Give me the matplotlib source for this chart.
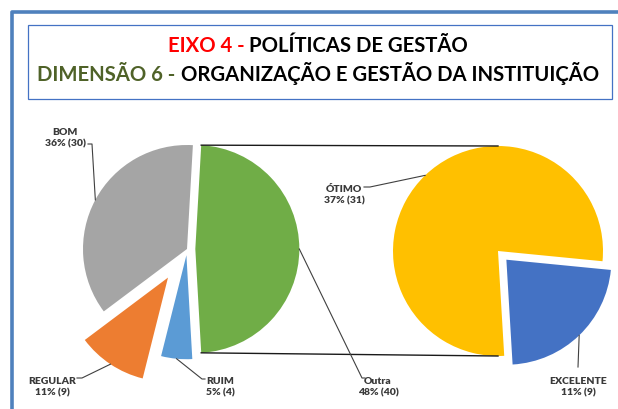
import numpy as np
import matplotlib
matplotlib.use('Agg')
import matplotlib.pyplot as plt
from matplotlib.patches import Rectangle

plt.rcParams['font.family'] = ['Lato', 'DejaVu Sans']

# data
main_labels = ['Outra', 'BOM', 'REGULAR', 'RUIM']
main_values = [40, 30, 9, 4]
main_colors = ['#70AD47', '#A5A5A5', '#ED7D31', '#5B9BD5']
main_explode = [0.08, 0.0, 0.33, 0.06]

sub_labels = ['ÓTIMO', 'EXCELENTE']
sub_values = [31, 9]
sub_colors = ['#FFC000', '#4472C4']
sub_explode = [0.0, 0.115]

total = sum(main_values)

title1 = [('EIXO 4 - ', '#FF0000'), ('POLÍTICAS DE GESTÃO', '#000000')]
title2 = [('DIMENSÃO 6 - ', '#4F6228'), ('ORGANIZAÇÃO E GESTÃO DA INSTITUIÇÃO', '#000000')]

W, H = 618, 410
fig = plt.figure(figsize=(W / 100, H / 100), dpi=100)
ax = fig.add_axes([0, 0, 1, 1])


def py(y):
    # pixel row (from top) -> data y
    return H - y


# pies (explode in pie() is absolute, so scale by radius)
c1 = (187, py(250))
r1 = 104
c2 = (498, py(252))
r2 = 105
w1, _ = ax.pie(main_values, colors=main_colors,
               explode=[e * r1 for e in main_explode],
               startangle=-180 * main_values[0] / total, center=c1, radius=r1,
               wedgeprops=dict(linewidth=0))
w2, _ = ax.pie(sub_values, colors=sub_colors,
               explode=[e * r2 for e in sub_explode],
               startangle=-5.6, center=c2, radius=r2,
               wedgeprops=dict(linewidth=0))

ax.set_xlim(0, W)
ax.set_ylim(0, H)
ax.set_aspect('equal')
ax.axis('off')

# connector lines from "Outra" slice to the second pie
outra = w1[0]
for ang, sign in [(outra.theta2, 1), (outra.theta1, -1)]:
    x0 = outra.center[0] + outra.r * np.cos(np.radians(ang))
    y0 = outra.center[1] + outra.r * np.sin(np.radians(ang))
    ax.plot([x0, c2[0]], [y0, c2[1] + sign * r2], color='#1a1a1a', lw=1.0)


def mid_point(w):
    a = np.radians((w.theta1 + w.theta2) / 2)
    return w.center[0] + w.r * np.cos(a), w.center[1] + w.r * np.sin(a)


lab_font = dict(fontsize=7.5, fontweight='heavy', color='#3a3a3a', ha='center',
                va='center', linespacing=1.35)

# label position, elbow, end of horizontal stub (pixel coords)
main_lab = {
    'Outra': ((378, 387), (362, 379), (365, 379)),
    'BOM': ((65, 138), (92, 145), (88, 145)),
    'REGULAR': ((52, 387), (82, 379), (77, 379)),
    'RUIM': ((220, 387), (202, 380), (205, 380)),
}
sub_lab = {
    'ÓTIMO': ((344, 195), (370, 188), (364, 188)),
    'EXCELENTE': ((578, 387), (578, 368), (578, 368)),
}

for wedges, labels, values, pos in [(w1, main_labels, main_values, main_lab),
                                    (w2, sub_labels, sub_values, sub_lab)]:
    for w, lab, v in zip(wedges, labels, values):
        (tx, ty), (ex, ey), (sx, sy) = pos[lab]
        mx, my = mid_point(w)
        ax.plot([mx, ex, sx], [my, py(ey), py(sy)], color='#404040', lw=0.8)
        pct = round(100 * v / total)
        ax.text(tx, py(ty), f'{lab}\n{pct}% ({v})', **lab_font)

# frames
ax.add_patch(Rectangle((12, -20), W + 20, py(13) + 20, fill=False,
                       edgecolor='#4F81BD', lw=2.6, joinstyle='round'))
ax.add_patch(Rectangle((28, py(100)), 612 - 28, 100 - 26, fill=False,
                       edgecolor='#4472C4', lw=0.9))


def rich_line(y, parts, size):
    texts = []
    prev = None
    for s, col in parts:
        if prev is None:
            t = ax.text(0, y, s, color=col, fontsize=size, fontweight='bold',
                        ha='left', va='center')
        else:
            t = ax.annotate(s, xy=(1, 0), xycoords=prev, ha='left', va='bottom',
                            color=col, fontsize=size, fontweight='bold')
        texts.append(t)
        prev = t
    fig.canvas.draw()
    rend = fig.canvas.get_renderer()
    x0 = texts[0].get_window_extent(rend).x0
    x1 = texts[-1].get_window_extent(rend).x1
    texts[0].set_x(318 - (x1 - x0) / 2)


rich_line(py(46), title1, 14.6)
rich_line(py(75), title2, 14.6)

fig.savefig('out.png', dpi=100)
